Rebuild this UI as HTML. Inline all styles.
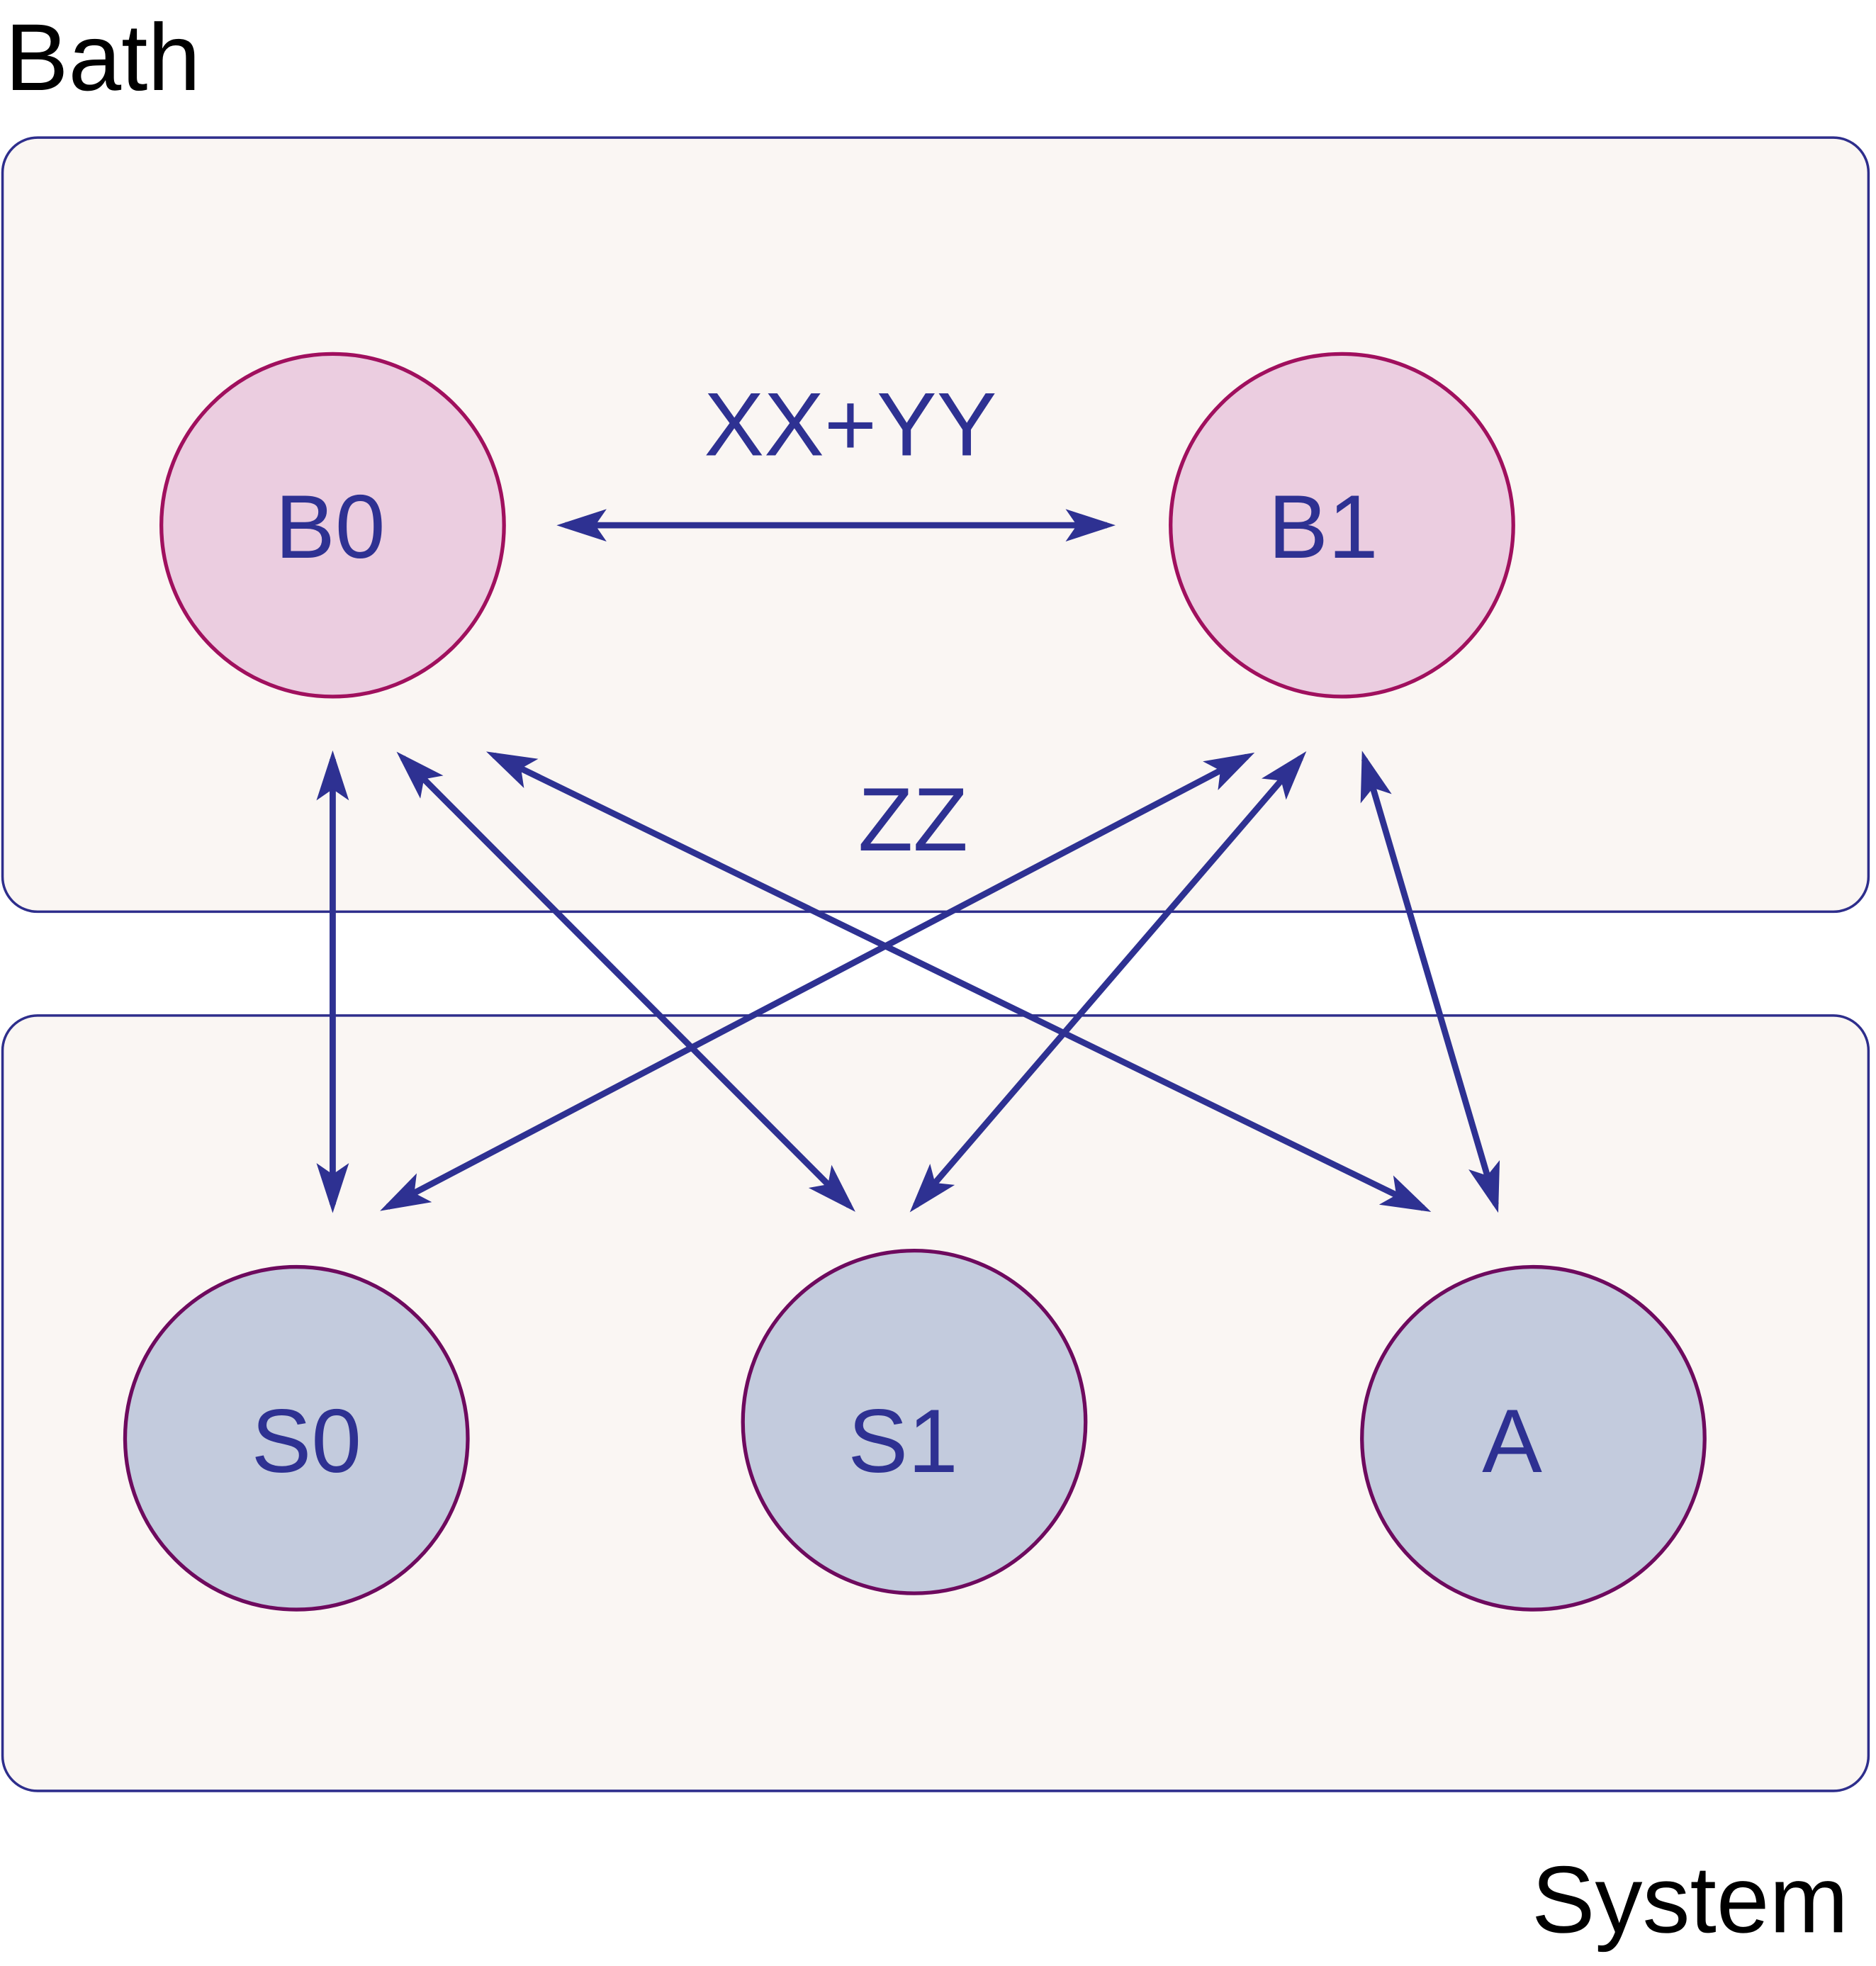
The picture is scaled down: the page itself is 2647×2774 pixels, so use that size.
<!DOCTYPE html>
<html><head><meta charset="utf-8"><style>
html,body{margin:0;padding:0;background:#fff;}
svg{display:block;}
text{font-family:"Liberation Sans","DejaVu Sans",sans-serif;}
</style></head><body>
<svg width="2647" height="2774" viewBox="0 0 1500 1572" xmlns="http://www.w3.org/2000/svg">
<defs>
<marker id="ah" viewBox="0 0 40 26" refX="33" refY="13" markerWidth="40" markerHeight="26" markerUnits="userSpaceOnUse" orient="auto-start-reverse">
<path d="M0,0 L40,13 L0,26 L9,13 Z" fill="#2e3192"/>
</marker>
</defs>
<text x="4" y="72" font-size="76" fill="#000">Bath</text>
<rect x="2" y="110" width="1492" height="619" rx="28" fill="#faf6f3" stroke="#2e2e8c" stroke-width="2"/>
<rect x="2" y="812" width="1492" height="620" rx="28" fill="#faf6f3" stroke="#2e2e8c" stroke-width="2"/>
<text x="1478" y="1545" font-size="76" fill="#000" text-anchor="end">System</text>

<g><circle cx="266" cy="420" r="137" fill="#ebcde0" stroke="#a0105e" stroke-width="3"/><text x="264" y="446" font-size="72" fill="#2e3192" text-anchor="middle">B0</text></g>
<g><circle cx="1073" cy="420" r="137" fill="#ebcde0" stroke="#a0105e" stroke-width="3"/><text x="1058" y="446" font-size="72" fill="#2e3192" text-anchor="middle">B1</text></g>
<g><circle cx="237" cy="1150" r="137" fill="#c3cbdd" stroke="#6e0a5e" stroke-width="3"/><text x="245" y="1177" font-size="72" fill="#2e3192" text-anchor="middle">S0</text></g>
<g><circle cx="731" cy="1137" r="137" fill="#c3cbdd" stroke="#6e0a5e" stroke-width="3"/><text x="722" y="1177" font-size="72" fill="#2e3192" text-anchor="middle">S1</text></g>
<g><circle cx="1226" cy="1150" r="137" fill="#c3cbdd" stroke="#6e0a5e" stroke-width="3"/><text x="1209" y="1177" font-size="72" fill="#2e3192" text-anchor="middle">A</text></g>

<text x="680" y="364" font-size="72" fill="#2e3192" text-anchor="middle">XX+YY</text>
<text x="730" y="680" font-size="72" fill="#2e3192" text-anchor="middle">ZZ</text>

<g stroke="#2e3192" stroke-width="5" fill="none">
<line x1="452" y1="420" x2="885" y2="420" marker-start="url(#ah)" marker-end="url(#ah)"/>
<line x1="266" y1="607" x2="266" y2="963" marker-start="url(#ah)" marker-end="url(#ah)"/>
<line x1="322" y1="606" x2="679" y2="964" marker-start="url(#ah)" marker-end="url(#ah)"/>
<line x1="395" y1="604" x2="1138" y2="966" marker-start="url(#ah)" marker-end="url(#ah)"/>
<line x1="997" y1="605" x2="310" y2="965" marker-start="url(#ah)" marker-end="url(#ah)"/>
<line x1="1040" y1="606" x2="732" y2="964" marker-start="url(#ah)" marker-end="url(#ah)"/>
<line x1="1091" y1="607" x2="1196" y2="963" marker-start="url(#ah)" marker-end="url(#ah)"/>
</g>
</svg>
</body></html>
